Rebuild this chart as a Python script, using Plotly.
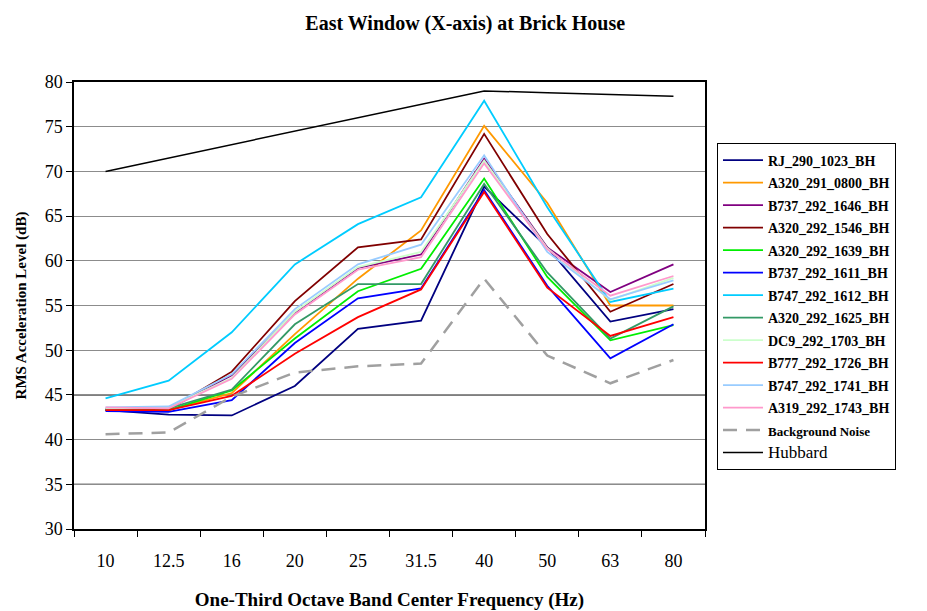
import plotly.graph_objects as go

freqs = ["10", "12.5", "16", "20", "25", "31.5", "40", "50", "63", "80"]

series_names = [
    "RJ_290_1023_BH", "A320_291_0800_BH", "B737_292_1646_BH", "A320_292_1546_BH",
    "A320_292_1639_BH", "B737_292_1611_BH", "B747_292_1612_BH", "A320_292_1625_BH",
    "DC9_292_1703_BH", "B777_292_1726_BH", "B747_292_1741_BH", "A319_292_1743_BH",
]

rj_290_1023 = [43.3, 42.8, 42.7, 46.0, 52.4, 53.3, 68.3, 61.5, 53.2, 54.6]
a320_291_0800 = [43.3, 43.3, 45.2, 51.8, 58.0, 63.4, 75.1, 66.5, 55.0, 55.0]
b737_292_1646 = [43.4, 43.4, 47.2, 54.2, 59.2, 60.7, 71.4, 61.5, 56.5, 59.6]
a320_292_1546 = [43.3, 43.4, 47.6, 55.5, 61.5, 62.4, 74.2, 63.0, 54.3, 57.4]
a320_292_1639 = [43.3, 43.3, 45.5, 51.3, 56.6, 59.1, 69.2, 58.2, 51.1, 52.8]
b737_292_1611 = [43.2, 43.1, 44.4, 50.8, 55.8, 56.9, 67.9, 57.2, 49.1, 52.9]
b747_292_1612 = [44.6, 46.6, 52.0, 59.6, 64.1, 67.1, 77.9, 66.0, 55.4, 56.9]
a320_292_1625 = [43.4, 43.5, 45.6, 52.9, 57.4, 57.4, 68.6, 58.7, 51.3, 54.9]
dc9_292_1703 = [43.5, 43.6, 46.9, 54.3, 59.3, 61.0, 71.2, 61.4, 55.6, 58.1]
b777_292_1726 = [43.3, 43.3, 44.9, 49.6, 53.7, 56.8, 67.7, 57.0, 51.6, 53.7]
b747_292_1741 = [43.6, 43.7, 47.3, 54.6, 59.6, 61.8, 71.8, 61.0, 55.7, 57.8]
a319_292_1743 = [43.6, 43.5, 46.8, 54.0, 59.0, 60.4, 70.9, 61.3, 56.1, 58.3]
background_noise = [40.6, 40.8, 44.8, 47.5, 48.2, 48.5, 58.0, 49.4, 46.3, 48.9]
hubbard = [70.0, 71.5, 73.0, 74.5, 76.0, 77.5, 79.0, 78.8, 78.6, 78.4]

series_values = [
    rj_290_1023, a320_291_0800, b737_292_1646, a320_292_1546, a320_292_1639,
    b737_292_1611, b747_292_1612, a320_292_1625, dc9_292_1703, b777_292_1726,
    b747_292_1741, a319_292_1743,
]
series_colors = [
    "#000080", "#FF9900", "#800080", "#800000", "#00EE00", "#0000FF",
    "#00CCFF", "#339966", "#CCFFCC", "#FF0000", "#99CCFF", "#FF99CC",
]

y_ticks = [30, 35, 40, 45, 50, 55, 60, 65, 70, 75, 80]
dark_grid = [35, 45]

FONT = "Liberation Serif, Times New Roman, serif"

fig = go.Figure()
for name, vals, col in zip(series_names, series_values, series_colors):
    fig.add_trace(go.Scatter(
        x=freqs, y=vals, mode="lines",
        name=f"<span style='font-size:14px'><b>{name}</b></span>",
        line=dict(color=col, width=1.8),
    ))
fig.add_trace(go.Scatter(
    x=freqs, y=background_noise, mode="lines",
    name="<span style='font-size:13px'><b>Background Noise</b></span>",
    line=dict(color="#A0A0A0", width=2.5, dash="14px,9px"),
))
fig.add_trace(go.Scatter(
    x=freqs, y=hubbard, mode="lines",
    name="<span style='font-size:17px'>Hubbard</span>",
    line=dict(color="black", width=1.5),
))

for v in dark_grid:
    fig.add_shape(type="line", xref="paper", x0=0, x1=1, yref="y", y0=v, y1=v,
                  line=dict(color="black", width=1.2), layer="below")

fig.update_layout(
    width=927, height=611,
    margin=dict(l=66, r=230, t=74, b=88),
    paper_bgcolor="white", plot_bgcolor="white",
    font=dict(family=FONT, color="black", size=18),
    title=dict(text="<b>East Window (X-axis) at Brick House</b>",
               x=0.62, xref="paper", xanchor="center", y=0.976, yanchor="middle",
               font=dict(size=20, family=FONT)),
    showlegend=True,
    legend=dict(
        x=1.019, xanchor="left", y=0.864, yanchor="top",
        bordercolor="black", borderwidth=1, bgcolor="white",
        font=dict(family=FONT, size=15, color="black"),
        tracegroupgap=0, itemwidth=40,
    ),
    xaxis=dict(
        type="category", range=[-0.5, 9.5], tickson="boundaries",
        ticks="outside", ticklen=6,
        tickcolor="black", showgrid=False, showline=True, linecolor="black",
        linewidth=1.5, mirror=True, tickfont=dict(size=18, family=FONT),
        ticklabelstandoff=15,
        title=dict(text="<b>One-Third Octave Band Center Frequency (Hz)</b>",
                   font=dict(size=19, family=FONT), standoff=22),
    ),
    yaxis=dict(
        range=[30, 80], tickvals=y_ticks, ticks="outside", ticklen=6,
        tickcolor="black", showgrid=True, gridcolor="#8C8C8C", gridwidth=1,
        showline=True, linecolor="black", linewidth=1.5, mirror=True,
        zeroline=False, tickfont=dict(size=18, family=FONT),
        title=dict(text="<b>RMS Acceleration Level (dB)</b>",
                   font=dict(size=15, family=FONT), standoff=14),
    ),
)

fig.write_html("out.html")
